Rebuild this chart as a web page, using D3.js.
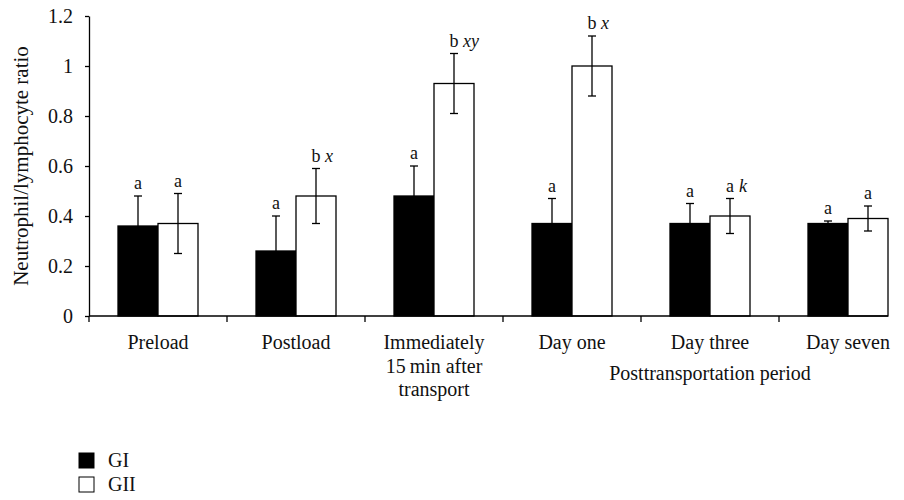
<!DOCTYPE html>
<html>
<head>
<meta charset="utf-8">
<script src="https://cdn.jsdelivr.net/npm/d3@7"></script>
<style>
	body { margin: 0; background: #fff; }
	svg { display: block; }
	svg text { font-family: "Liberation Serif", "DejaVu Serif", serif; }
</style>
</head>
<body>
<svg id="chart" width="904" height="500"></svg>
<script>
'use strict';

const categories = ['Preload', 'Postload', 'Immediately', 'Day one', 'Day three', 'Day seven'];
const categoryLines = [
	['Preload'],
	['Postload'],
	['Immediately', '15\u2009min after', 'transport'],
	['Day one'],
	['Day three'],
	['Day seven'],
];
const groups = ['GI', 'GII'];
const giValues = [0.36, 0.26, 0.48, 0.37, 0.37, 0.37];
const giErrors = [0.12, 0.14, 0.12, 0.10, 0.08, 0.01];
const giiValues = [0.37, 0.48, 0.93, 1.0, 0.40, 0.39];
const giiErrors = [0.12, 0.11, 0.12, 0.12, 0.07, 0.05];
const giLetters = ['a', 'a', 'a', 'a', 'a', 'a'];
const giiLetters = ['a', 'b', 'b', 'b', 'a', 'a'];
const giiSuffix = ['', 'x', 'xy', 'x', 'k', ''];
const yTicks = [0, 0.2, 0.4, 0.6, 0.8, 1, 1.2];

const svg = d3.select('#chart');

const x = d3.scaleBand().domain(categories).range([89, 917]);
const xInner = d3.scaleBand().domain(groups).range([0, x.bandwidth()]).paddingOuter(0.725);
const y = d3.scaleLinear().domain([0, 1.2]).range([316, 16]);

const rows = categories.map((c, i) => [
	{ cat: c, group: 'GI', value: giValues[i], err: giErrors[i], letter: giLetters[i], suffix: '' },
	{ cat: c, group: 'GII', value: giiValues[i], err: giiErrors[i], letter: giiLetters[i], suffix: giiSuffix[i] },
]).flat();

const fill = { GI: '#000', GII: '#fff' };
const cx = (d) => x(d.cat) + xInner(d.group) + xInner.bandwidth() / 2;

// bars
svg.append('g').selectAll('rect')
	.data(rows)
	.join('rect')
	.attr('x', (d) => x(d.cat) + xInner(d.group))
	.attr('y', (d) => y(d.value))
	.attr('width', xInner.bandwidth())
	.attr('height', (d) => y(0) - y(d.value))
	.attr('fill', (d) => fill[d.group])
	.attr('stroke', '#000')
	.attr('stroke-width', 1.3);

// error bars
const err = svg.append('g').attr('stroke', '#000').attr('stroke-width', 1.3);
err.selectAll('line.v')
	.data(rows)
	.join('line')
	.attr('class', 'v')
	.attr('x1', cx).attr('x2', cx)
	.attr('y1', (d) => y(d.value + d.err))
	.attr('y2', (d) => y(d.value - d.err));
['top', 'bottom'].forEach((side) => {
	err.selectAll('line.' + side)
		.data(rows)
		.join('line')
		.attr('class', side)
		.attr('x1', (d) => cx(d) - 4)
		.attr('x2', (d) => cx(d) + 4)
		.attr('y1', (d) => y(side === 'top' ? d.value + d.err : d.value - d.err))
		.attr('y2', (d) => y(side === 'top' ? d.value + d.err : d.value - d.err));
});

// significance letters
const letters = svg.append('g').attr('font-size', 18).attr('fill', '#111');
letters.selectAll('text.l')
	.data(rows)
	.join('text')
	.attr('class', 'l')
	.attr('x', cx)
	.attr('y', (d) => y(d.value + d.err) - 7)
	.attr('text-anchor', 'middle')
	.text((d) => d.letter);
letters.selectAll('text.s')
	.data(rows.filter((d) => d.suffix))
	.join('text')
	.attr('class', 's')
	.attr('x', (d) => cx(d) + 9)
	.attr('y', (d) => y(d.value + d.err) - 7)
	.attr('font-style', 'italic')
	.text((d) => d.suffix);

// y axis
const yAxis = svg.append('g')
	.attr('transform', 'translate(89,0)')
	.call(d3.axisLeft(y).tickValues(yTicks).tickSize(4).tickSizeOuter(0).tickFormat((d) => d3.format('')(d)));
yAxis.attr('font-family', null);
yAxis.select('.domain').attr('stroke-width', 1.3);
yAxis.selectAll('.tick line').attr('stroke-width', 1.3);
yAxis.selectAll('.tick text')
	.attr('x', -16)
	.attr('font-size', 20)
	.attr('fill', '#111');

svg.append('text')
	.attr('transform', `translate(28,${(y(0) + y(1.2)) / 2}) rotate(-90)`)
	.attr('text-anchor', 'middle')
	.attr('font-size', 21)
	.attr('fill', '#111')
	.text('Neutrophil/lymphocyte ratio');

// x axis: line ends at the last bar, ticks at group boundaries
const lastBarEnd = x(categories[categories.length - 1]) + xInner('GII') + xInner.bandwidth();
const xAxis = svg.append('g').attr('stroke', '#000').attr('stroke-width', 1.3);
xAxis.append('line')
	.attr('x1', x.range()[0]).attr('x2', lastBarEnd)
	.attr('y1', y(0)).attr('y2', y(0));
xAxis.selectAll('line.tick')
	.data(categories)
	.join('line')
	.attr('class', 'tick')
	.attr('x1', (d) => x(d)).attr('x2', (d) => x(d))
	.attr('y1', y(0)).attr('y2', y(0) + 6);

// category labels
const catLabels = svg.append('g').attr('font-size', 20).attr('fill', '#111').attr('text-anchor', 'middle');
catLabels.selectAll('text')
	.data(categories)
	.join('text')
	.attr('x', (d) => x(d) + x.bandwidth() / 2)
	.attr('y', y(0) + 33)
	.each(function (d, i) {
		d3.select(this).selectAll('tspan')
			.data(categoryLines[i])
			.join('tspan')
			.attr('x', x(d) + x.bandwidth() / 2)
			.attr('dy', (t, j) => (j === 0 ? 0 : 23.5))
			.text((t) => t);
	});

svg.append('text')
	.attr('x', x('Day three') + x.bandwidth() / 2)
	.attr('y', y(0) + 64)
	.attr('text-anchor', 'middle')
	.attr('font-size', 20)
	.attr('fill', '#111')
	.text('Posttransportation period');

// legend
const legend = svg.append('g').attr('transform', 'translate(79,453)');
const item = legend.selectAll('g')
	.data(groups)
	.join('g')
	.attr('transform', (d, i) => `translate(0,${i * 24})`);
item.append('rect')
	.attr('width', 15).attr('height', 15)
	.attr('fill', (d) => fill[d])
	.attr('stroke', '#000')
	.attr('stroke-width', 1);
item.append('text')
	.attr('x', 29).attr('y', 14)
	.attr('font-size', 20)
	.attr('fill', '#111')
	.text((d) => d);
</script>
</body>
</html>
